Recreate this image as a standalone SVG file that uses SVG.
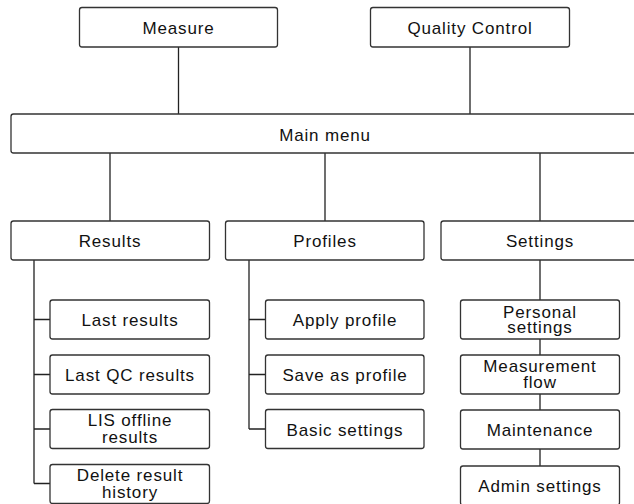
<svg xmlns="http://www.w3.org/2000/svg" width="634" height="504" viewBox="0 0 634 504">
<style>
.b{fill:#fff;stroke:#333;stroke-width:1.3}
.c{fill:none;stroke:#222;stroke-width:1.3}
text{font-family:"Liberation Sans",Arial,sans-serif;font-size:17px;fill:#111;text-anchor:middle;letter-spacing:0.85px}
</style>
<rect width="634" height="504" fill="#fff"/>
<g id="connectors">
<path class="c" d="M178.5 47V114M470 47V114M110 153V221M325 153V221M540 153V221"/>
<path class="c" d="M34 260V483.5M34 319.5H50M34 374.5H50M34 429H50M34 483.5H50"/>
<path class="c" d="M249 260V429M249 319.5H265.5M249 374.5H265.5M249 429H265.5"/>
<path class="c" d="M540 260V300M540 339V355M540 394V410M540 449V466"/>
</g>
<g id="measure"><rect class="b" x="79.5" y="7.5" width="198" height="39.5" rx="2.5"/><text x="178.5" y="33.5">Measure</text></g>
<g id="quality-control"><rect class="b" x="370.5" y="7.5" width="199" height="39.5" rx="2.5"/><text x="470" y="33.5">Quality Control</text></g>
<g id="main-menu"><rect class="b" x="11" y="114" width="628" height="39" rx="2.5"/><text x="325" y="140.5">Main menu</text></g>
<g id="results"><rect class="b" x="11" y="221" width="198.5" height="39" rx="2.5"/><text x="110" y="247">Results</text></g>
<g id="profiles"><rect class="b" x="225.5" y="221" width="198.5" height="39" rx="2.5"/><text x="325" y="247">Profiles</text></g>
<g id="settings"><rect class="b" x="441" y="221" width="198.5" height="39" rx="2.5"/><text x="540" y="247">Settings</text></g>
<g id="last-results"><rect class="b" x="50" y="300" width="159.5" height="39" rx="2.5"/><text x="130" y="326">Last results</text></g>
<g id="last-qc-results"><rect class="b" x="50" y="355" width="159.5" height="39" rx="2.5"/><text x="130" y="381">Last QC results</text></g>
<g id="lis-offline-results"><rect class="b" x="50" y="409.5" width="159.5" height="39" rx="2.5"/><text x="130" y="426"><tspan x="130">LIS offline</tspan><tspan x="130" dy="16.5">results</tspan></text></g>
<g id="delete-result-history"><rect class="b" x="50" y="464.5" width="159.5" height="39" rx="2.5"/><text x="130" y="481"><tspan x="130">Delete result</tspan><tspan x="130" dy="16.5">history</tspan></text></g>
<g id="apply-profile"><rect class="b" x="265.5" y="300" width="158.5" height="39" rx="2.5"/><text x="345" y="326">Apply profile</text></g>
<g id="save-as-profile"><rect class="b" x="265.5" y="355" width="158.5" height="39" rx="2.5"/><text x="345" y="381">Save as profile</text></g>
<g id="basic-settings"><rect class="b" x="265.5" y="409.5" width="158.5" height="39" rx="2.5"/><text x="345" y="436">Basic settings</text></g>
<g id="personal-settings"><rect class="b" x="460.5" y="300" width="159" height="39" rx="2.5"/><text x="540" y="317.5"><tspan x="540">Personal</tspan><tspan x="540" dy="15">settings</tspan></text></g>
<g id="measurement-flow"><rect class="b" x="460.5" y="355" width="159" height="39" rx="2.5"/><text x="540" y="371.5"><tspan x="540">Measurement</tspan><tspan x="540" dy="16">flow</tspan></text></g>
<g id="maintenance"><rect class="b" x="460.5" y="410" width="159" height="39" rx="2.5"/><text x="540" y="436">Maintenance</text></g>
<g id="admin-settings"><rect class="b" x="460.5" y="466" width="159" height="39" rx="2.5"/><text x="540" y="492">Admin settings</text></g>
</svg>
